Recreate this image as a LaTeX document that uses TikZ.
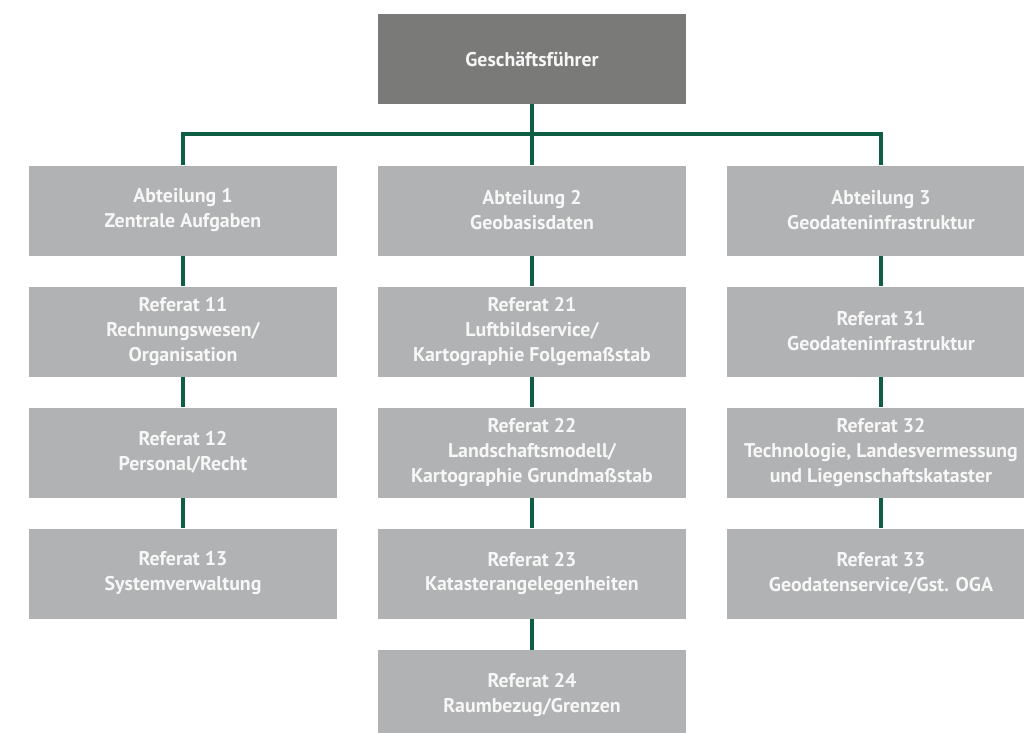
\documentclass[tikz,border=0pt]{standalone}
\usepackage{fontspec}
\setsansfont{PT Sans}
\usepackage{xcolor}
\usepackage{tikz}
\usetikzlibrary{positioning,calc}

\definecolor{boxgray}{HTML}{B1B2B3}
\definecolor{topgray}{HTML}{7A7A78}
\definecolor{linegreen}{HTML}{0F5E44}
\definecolor{txtwhite}{HTML}{F7F7F7}

\begin{document}
\begin{tikzpicture}[every node/.style={fill=boxgray, text=txtwhite, minimum width=6.16cm, minimum height=1.8cm, align=center, inner sep=0pt, font=\sffamily\bfseries\fontsize{11.3}{14.2}\selectfont},
    conn/.style={draw=linegreen, line width=0.08cm}]
    \useasboundingbox (0,0) rectangle (20.48,-14.66);

    \node[fill=topgray] (gf) at (10.64,-1.18) {Geschäftsführer};
    \coordinate (bar) at (10.64,-2.68);

    \node (abt1) at (3.66,-4.21) {Abteilung 1\\Zentrale Aufgaben};
    \node (abt2) at (10.64,-4.21) {Abteilung 2\\Geobasisdaten};
    \node (abt3) at (17.62,-4.21) {Abteilung 3\\Geodateninfrastruktur};

    \node (ref11) at (3.66,-6.63) {Referat 11\\Rechnungswesen/\\Organisation};
    \node (ref12) at (3.66,-9.05) {Referat 12\\Personal/Recht};
    \node (ref13) at (3.66,-11.47) {Referat 13\\Systemverwaltung};

    \node (ref21) at (10.64,-6.63) {Referat 21\\Luftbildservice/\\Kartographie Folgemaßstab};
    \node (ref22) at (10.64,-9.05) {Referat 22\\Landschaftsmodell/\\Kartographie Grundmaßstab};
    \node (ref23) at (10.64,-11.47) {Referat 23\\Katasterangelegenheiten};
    \node (ref24) at (10.64,-13.9) {Referat 24\\Raumbezug/Grenzen};

    \node (ref31) at (17.62,-6.63) {Referat 31\\Geodateninfrastruktur};
    \node (ref32) at (17.62,-9.05) {Referat 32\\Technologie, Landesvermessung\\und Liegenschaftskataster};
    \node (ref33) at (17.62,-11.47) {Referat 33\\Geodatenservice/Gst. OGA};

    \draw[conn] (gf) -- (bar);
    \draw[conn] (abt1.north) |- (bar) -| (abt3.north);
    \draw[conn] (bar) -- (abt2);

    \draw[conn] (abt1) -- (ref11);
    \draw[conn] (ref11) -- (ref12);
    \draw[conn] (ref12) -- (ref13);

    \draw[conn] (abt2) -- (ref21);
    \draw[conn] (ref21) -- (ref22);
    \draw[conn] (ref22) -- (ref23);
    \draw[conn] (ref23) -- (ref24);

    \draw[conn] (abt3) -- (ref31);
    \draw[conn] (ref31) -- (ref32);
    \draw[conn] (ref32) -- (ref33);
\end{tikzpicture}
\end{document}
